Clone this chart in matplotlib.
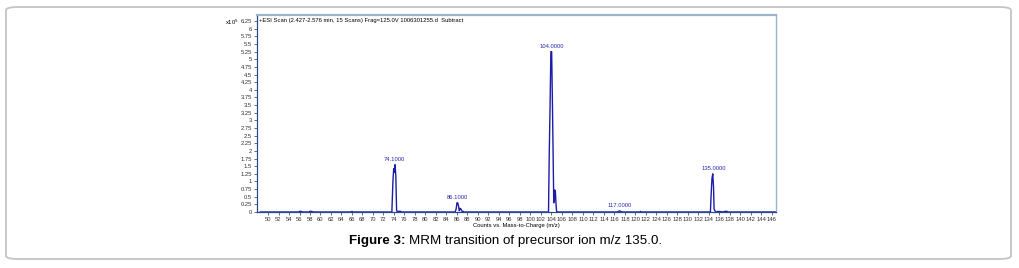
import matplotlib.pyplot as plt
from matplotlib.patches import FancyBboxPatch
import numpy as np

plt.rcParams['font.family'] = ['Liberation Sans', 'DejaVu Sans']

# profile spectrum (m/z, counts x10^5)
mz = [48.5, 55.8, 56.0, 56.3, 56.6, 57.7, 58.0, 58.3, 58.6, 65.9, 66.0, 66.1,
      73.6, 73.8, 73.95, 74.05, 74.2, 74.35, 74.5, 74.6, 75.3, 75.4,
      85.65, 85.85, 86.0, 86.15, 86.3, 86.45, 86.6, 86.75, 86.9, 87.05, 87.2, 87.3,
      103.45, 103.6, 103.75, 103.9, 104.05, 104.2, 104.35, 104.45, 104.6, 104.75, 104.9, 105.0, 105.2,
      116.6, 116.8, 117.0, 117.2, 117.4, 120.9, 121.0, 121.1,
      134.3, 134.45, 134.6, 134.75, 134.9, 135.0, 135.15, 135.3, 135.4, 135.6, 135.7, 136.9, 137.0, 137.5, 137.6,
      146.8]
counts = [0, 0, 0.02, 0.02, 0, 0, 0.02, 0.02, 0, 0, 0.02, 0,
          0, 1.0, 1.42, 1.3, 1.55, 1.2, 0.05, 0.02, 0.02, 0,
          0, 0.1, 0.3, 0.3, 0.2, 0.04, 0.12, 0.1, 0.05, 0.0, 0.02, 0,
          0, 2.0, 3.5, 5.25, 5.25, 3.5, 1.6, 0.3, 0.72, 0.7, 0.2, 0.02, 0,
          0, 0.02, 0.04, 0.02, 0, 0, 0.02, 0,
          0, 0.6, 1.1, 1.25, 0.8, 0.1, 0.04, 0.02, 0, 0, 0.02, 0, 0.02, 0.02, 0,
          0]

peak_mz = [74.1, 86.1, 104.0, 117.0, 135.0]
peak_h = [1.55, 0.3, 5.25, 0.04, 1.25]
peak_lbl = ["74.1000", "86.1000", "104.0000", "117.0000", "135.0000"]

fig = plt.figure(figsize=(10.2, 2.68), dpi=100)

frame = FancyBboxPatch((6/1020, 9/268), 1005/1020, 252/268,
                       boxstyle="round,pad=0,rounding_size=0.012",
                       transform=fig.transFigure, fill=False,
                       edgecolor="#c4c4c4", linewidth=1.3)
fig.patches.append(frame)

ax = fig.add_axes([257/1020, 1 - 212/268, 519/1020, 197/268])
ax.plot(mz, counts, color="#1c1ca8", lw=1.0)

for x, h, s in zip(peak_mz, peak_h, peak_lbl):
    ax.text(x, h + 0.08, s, ha="center", va="bottom", fontsize=4.2, color="#2a2ab0")

ax.set_xlim(47.9, 146.8)
ax.set_ylim(0, 6.45)
ax.set_xticks(np.arange(50, 147, 2))
ax.set_yticks(np.arange(0, 6.3, 0.25))
ax.set_yticklabels([f"{v:g}" for v in np.arange(0, 6.3, 0.25)])
ax.tick_params(labelsize=4.2, length=2, width=0.5, pad=1.5, colors="#333333")

for side in ["left", "bottom"]:
    ax.spines[side].set_color("#2b4a8a")
    ax.spines[side].set_linewidth(0.9)
ax.spines["top"].set_color("#9db3cc")
ax.spines["top"].set_linewidth(1.6)
ax.spines["right"].set_color("#9db3cc")
ax.spines["right"].set_linewidth(1.0)

ax.set_xlabel("Counts vs. Mass-to-Charge (m/z)", fontsize=4.2, labelpad=1)
ax.text(-0.035, 0.985, "x10$^5$", transform=ax.transAxes, fontsize=4.2, ha="right", va="top")
ax.text(0.004, 0.985, "+ESI Scan (2.427-2.576 min, 15 Scans) Frag=125.0V 1006301255.d  Subtract",
        transform=ax.transAxes, fontsize=4.2, ha="left", va="top")

fig.text(409/1020, 1 - 241/268, "Figure 3: ", fontsize=9.6, fontweight="bold",
         ha="right", va="center")
fig.text(409/1020, 1 - 241/268, "MRM transition of precursor ion m/z 135.0.", fontsize=9.6,
         ha="left", va="center")

fig.savefig("out.png", dpi=100)
